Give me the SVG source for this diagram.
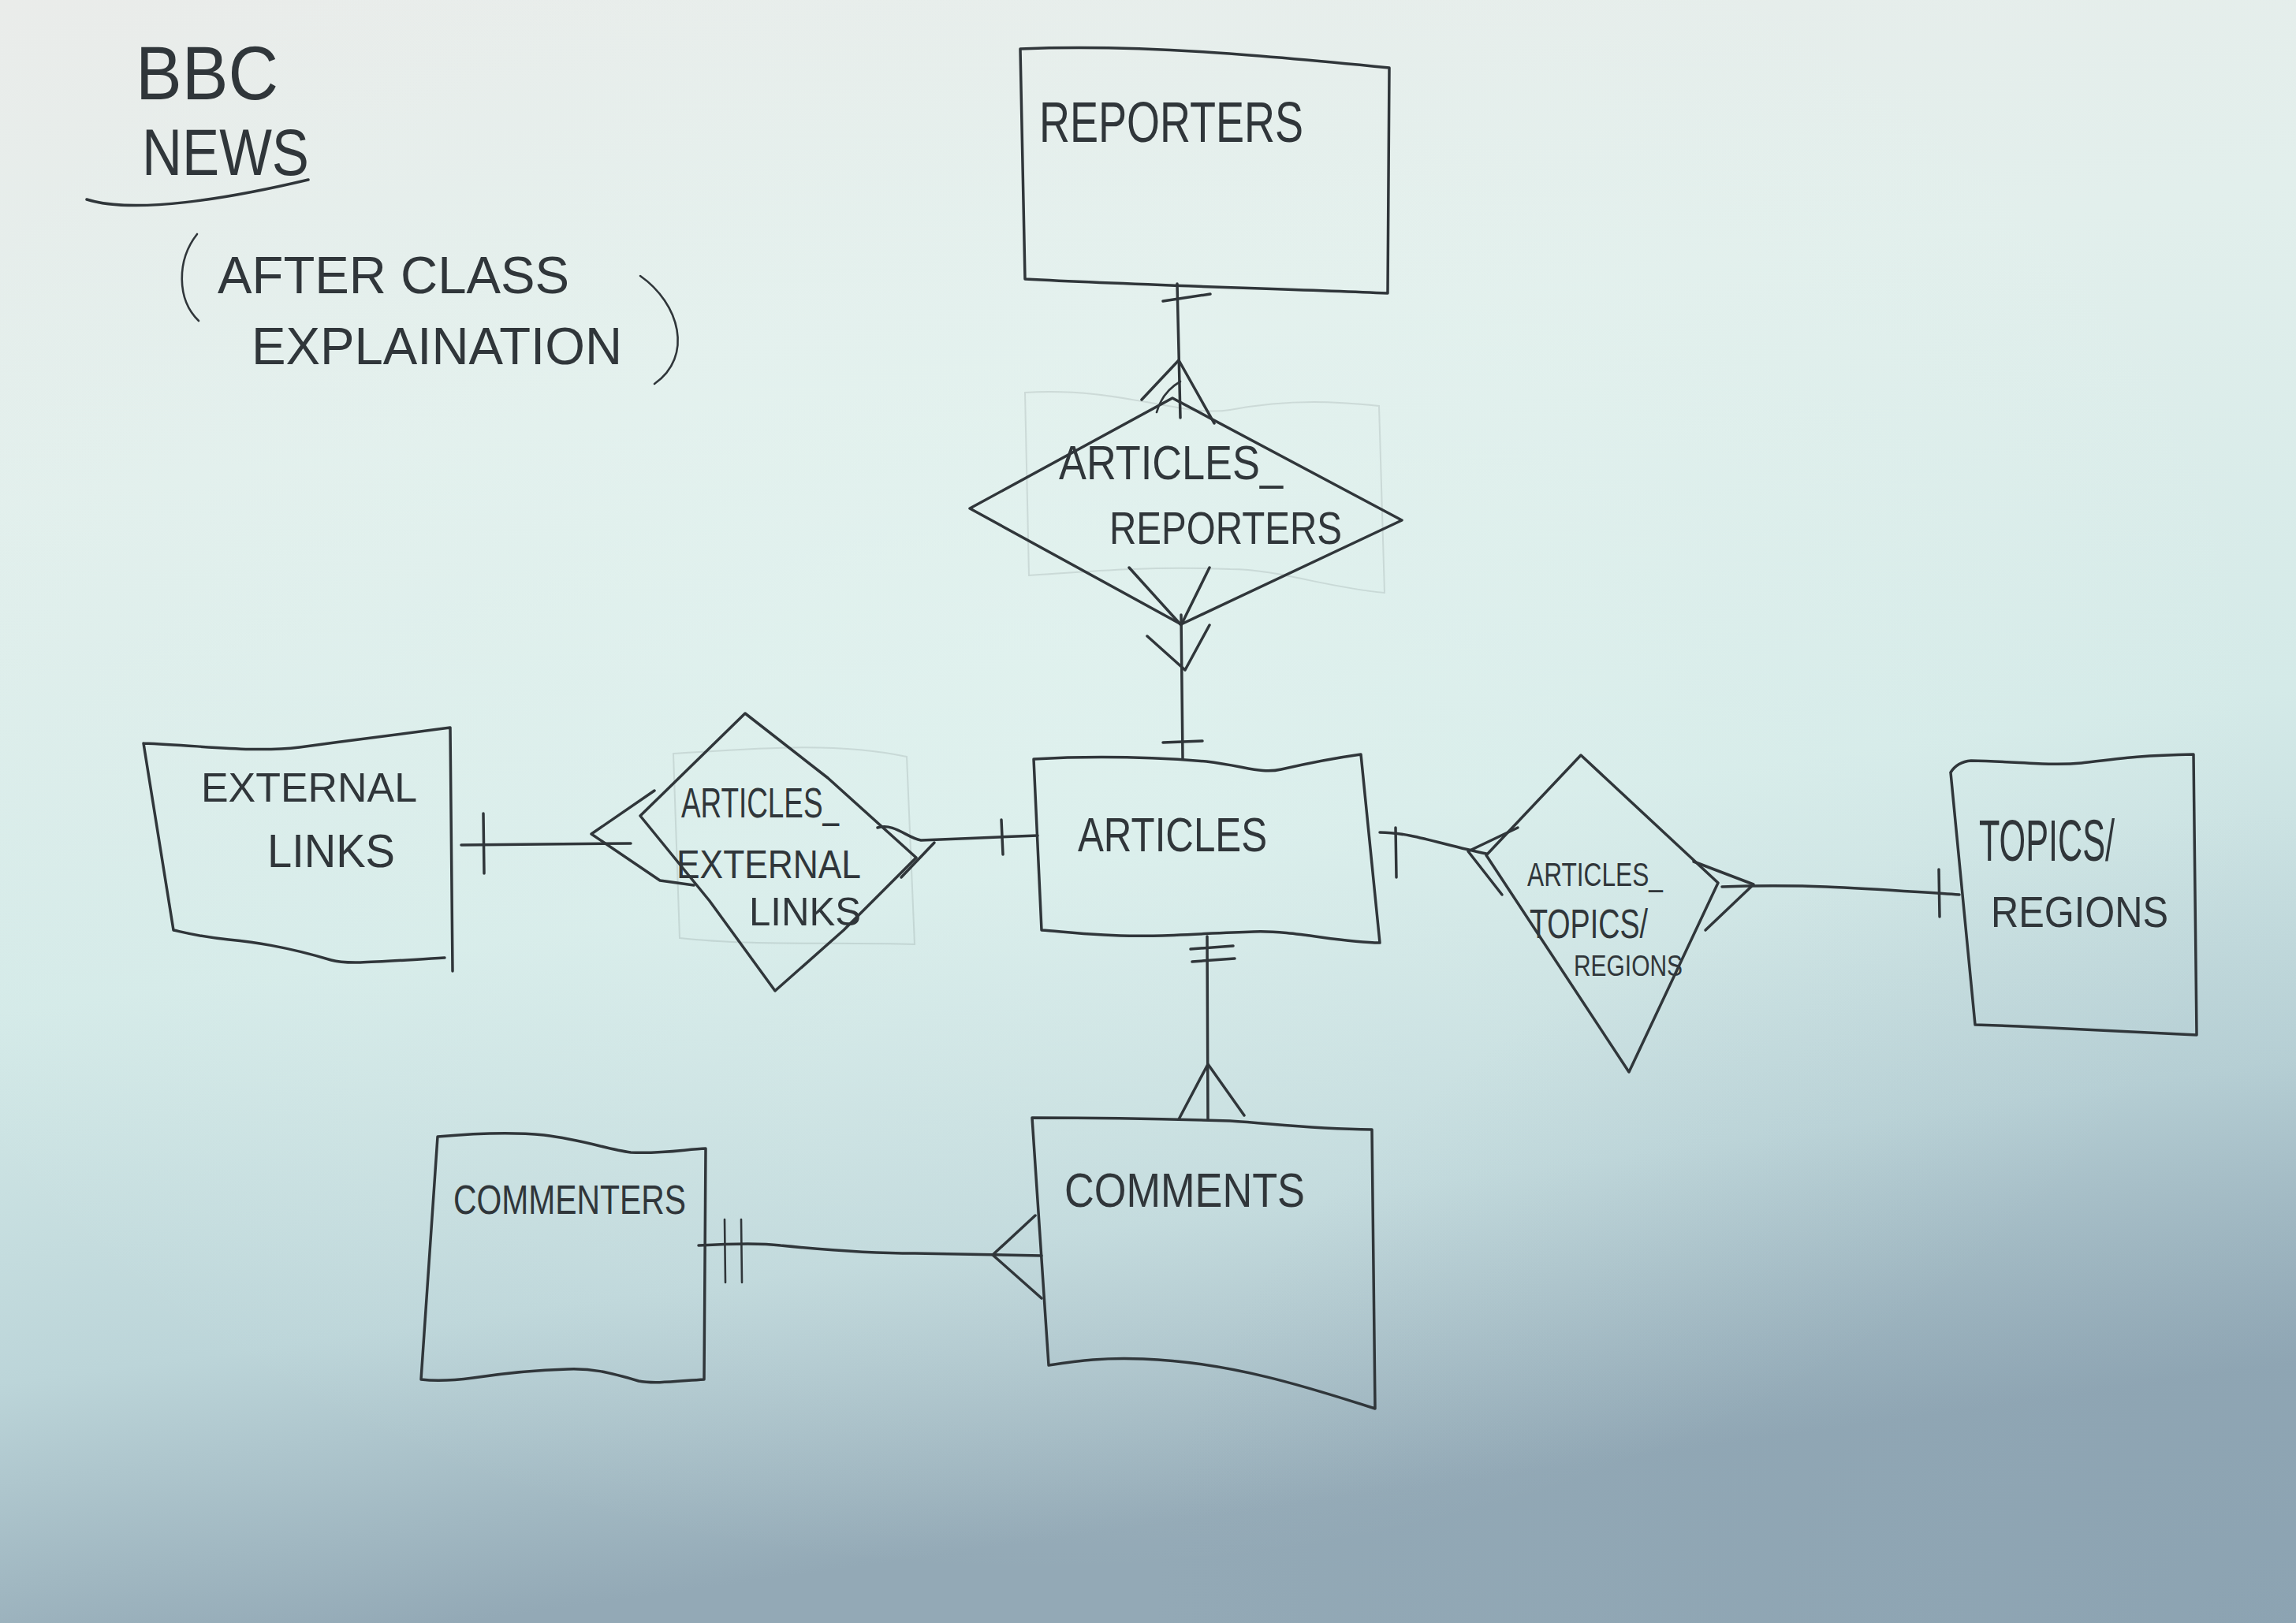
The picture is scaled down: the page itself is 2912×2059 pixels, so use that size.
<svg xmlns="http://www.w3.org/2000/svg" width="2912" height="2059" viewBox="0 0 2912 2059">
<defs>
<linearGradient id="paper" x1="0" y1="0" x2="0.2" y2="1">
<stop offset="0" stop-color="#eaecea"/>
<stop offset="0.3" stop-color="#e2efec"/>
<stop offset="0.6" stop-color="#d4eae8"/>
<stop offset="0.82" stop-color="#bcd5d9"/>
<stop offset="1" stop-color="#93a9b6"/>
</linearGradient>
<radialGradient id="glow" cx="0.45" cy="0.42" r="0.55">
<stop offset="0" stop-color="#e6f6f2" stop-opacity="0.5"/>
<stop offset="1" stop-color="#e6f6f2" stop-opacity="0"/>
</radialGradient>
<radialGradient id="vigR" cx="1" cy="1" r="0.5">
<stop offset="0" stop-color="#8099ab" stop-opacity="0.35"/>
<stop offset="1" stop-color="#8099ab" stop-opacity="0"/>
</radialGradient>
</defs>
<style>
.ink{fill:none;stroke:#30363a;stroke-width:3.5;stroke-linecap:round;stroke-linejoin:round}
.thin{fill:none;stroke:#30363a;stroke-width:2.6;stroke-linecap:round;stroke-linejoin:round}
.ghost{fill:none;stroke:#30363a;stroke-width:2;stroke-opacity:0.12}
.t{font-family:"Liberation Sans","DejaVu Sans",sans-serif;fill:#30363a;font-weight:normal}
</style>
<rect x="0" y="0" width="2912" height="2059" fill="url(#paper)"/>
<rect x="0" y="0" width="2912" height="2059" fill="url(#glow)"/>
<rect x="0" y="0" width="2912" height="2059" fill="url(#vigR)"/>

<g id="title">
<text class="t" x="172" y="126" font-size="96" textLength="181" lengthAdjust="spacingAndGlyphs">BBC</text>
<text class="t" x="180" y="222" font-size="84" textLength="212" lengthAdjust="spacingAndGlyphs">NEWS</text>
<path class="ink" d="M110,253 C170,272 290,252 391,228"/>
<path class="thin" d="M250,297 C224,330 224,380 252,407"/>
<text class="t" x="276" y="372" font-size="66" textLength="446" lengthAdjust="spacingAndGlyphs">AFTER CLASS</text>
<text class="t" x="319" y="462" font-size="66" textLength="470" lengthAdjust="spacingAndGlyphs">EXPLAINATION</text>
<path class="thin" d="M812,350 C862,385 880,452 830,487"/>
</g>

<g id="ghosts">
<path class="ghost" d="M1300,498 C1420,490 1500,530 1560,520 C1640,505 1700,510 1749,515 L1756,752 C1680,745 1620,722 1560,722 C1450,718 1380,725 1305,730 Z"/>
<path class="ghost" d="M854,956 C950,950 1060,940 1150,960 L1160,1198 C1060,1195 950,1200 862,1190 Z"/>
</g>

<g id="reporters">
<path class="ink" d="M1294,62 C1450,56 1600,70 1762,86 L1760,372 C1620,366 1450,362 1300,354 Z"/>
<text class="t" x="1318" y="180" font-size="72" textLength="335" lengthAdjust="spacingAndGlyphs">REPORTERS</text>
</g>

<g id="articles_reporters">
<path class="ink" d="M1230,645 L1487,505 L1778,660 L1498,792 Z"/>
<text class="t" x="1343" y="608" font-size="62" textLength="284" lengthAdjust="spacingAndGlyphs">ARTICLES_</text>
<text class="t" x="1407" y="690" font-size="58" textLength="295" lengthAdjust="spacingAndGlyphs">REPORTERS</text>
</g>

<g id="articles">
<path class="ink" d="M1311,963 C1400,958 1480,962 1530,966 C1580,972 1600,982 1625,976 C1660,968 1690,962 1726,957 L1750,1196 C1700,1196 1640,1180 1590,1182 C1520,1184 1460,1190 1400,1186 C1360,1184 1340,1181 1321,1180 Z"/>
<text class="t" x="1367" y="1080" font-size="62" textLength="240" lengthAdjust="spacingAndGlyphs">ARTICLES</text>
</g>

<g id="external_links">
<path class="ink" d="M182,943 C260,946 320,955 380,948 C440,940 470,936 571,923 L574,1232 M564,1215 C480,1220 440,1224 420,1218 C360,1200 320,1195 290,1192 C250,1188 230,1182 220,1180 L182,943"/>
<text class="t" x="255" y="1017" font-size="52" textLength="274" lengthAdjust="spacingAndGlyphs">EXTERNAL</text>
<text class="t" x="339" y="1100" font-size="60" textLength="162" lengthAdjust="spacingAndGlyphs">LINKS</text>
</g>

<g id="articles_external_links">
<path class="ink" d="M945,905 L812,1035 L900,1143 L983,1257 L1070,1180 L1162,1088 L1050,987 Z"/>
<text class="t" x="864" y="1037" font-size="54" textLength="200" lengthAdjust="spacingAndGlyphs">ARTICLES_</text>
<text class="t" x="858" y="1114" font-size="50" textLength="234" lengthAdjust="spacingAndGlyphs">EXTERNAL</text>
<text class="t" x="950" y="1174" font-size="50" textLength="142" lengthAdjust="spacingAndGlyphs">LINKS</text>
</g>

<g id="articles_topics_regions">
<path class="ink" d="M1885,1085 L2005,958 L2179,1120 L2066,1360 Z"/>
<text class="t" x="1937" y="1124" font-size="42" textLength="172" lengthAdjust="spacingAndGlyphs">ARTICLES_</text>
<text class="t" x="1940" y="1190" font-size="52" textLength="150" lengthAdjust="spacingAndGlyphs">TOPICS/</text>
<text class="t" x="1996" y="1238" font-size="36" textLength="138" lengthAdjust="spacingAndGlyphs">REGIONS</text>
</g>

<g id="topics_regions">
<path class="ink" d="M2474,980 C2480,970 2488,966 2500,965 C2560,966 2600,972 2640,968 C2690,962 2720,958 2782,957 L2786,1313 C2720,1310 2640,1306 2560,1302 L2505,1300 L2474,980"/>
<text class="t" x="2510" y="1092" font-size="74" textLength="172" lengthAdjust="spacingAndGlyphs">TOPICS/</text>
<text class="t" x="2525" y="1176" font-size="56" textLength="225" lengthAdjust="spacingAndGlyphs">REGIONS</text>
</g>

<g id="commenters">
<path class="ink" d="M555,1442 C600,1438 650,1436 690,1440 C740,1446 770,1458 800,1462 C840,1464 870,1458 895,1457 L893,1750 C860,1752 830,1756 810,1752 C770,1740 750,1736 720,1737 C680,1738 640,1742 600,1748 C570,1752 550,1752 534,1750 Z"/>
<text class="t" x="575" y="1540" font-size="52" textLength="295" lengthAdjust="spacingAndGlyphs">COMMENTERS</text>
</g>

<g id="comments">
<path class="ink" d="M1309,1418 C1400,1418 1500,1420 1560,1422 C1620,1426 1660,1432 1740,1433 L1744,1787 C1660,1760 1560,1728 1450,1724 C1400,1722 1370,1726 1330,1732 Z"/>
<text class="t" x="1350" y="1531" font-size="62" textLength="305" lengthAdjust="spacingAndGlyphs">COMMENTS</text>
</g>

<g id="connectors">
<path class="ink" d="M1493,360 L1497,530"/>
<path class="ink" d="M1475,382 L1535,373"/>
<path class="ink" d="M1448,507 L1495,457 L1540,537"/>
<path class="thin" d="M1467,523 C1472,505 1483,492 1497,484"/>
<path class="ink" d="M1432,720 L1498,793 L1534,720"/>
<path class="ink" d="M1455,807 L1503,850 L1534,793"/>
<path class="ink" d="M1498,780 L1500,962"/>
<path class="ink" d="M1475,942 L1525,940"/>
<path class="ink" d="M585,1072 L800,1070"/>
<path class="ink" d="M613,1032 L614,1108"/>
<path class="ink" d="M830,1003 L750,1058 L837,1117 L880,1123"/>
<path class="ink" d="M1113,1050 C1135,1044 1150,1063 1168,1066 C1220,1064 1260,1062 1316,1060"/>
<path class="ink" d="M1185,1069 L1143,1113"/>
<path class="ink" d="M1270,1040 L1272,1084"/>
<path class="ink" d="M1750,1056 C1790,1056 1830,1072 1885,1083"/>
<path class="ink" d="M1770,1050 L1771,1113"/>
<path class="ink" d="M1925,1050 L1862,1080 L1905,1135"/>
<path class="ink" d="M2184,1125 C2300,1120 2400,1130 2485,1135"/>
<path class="ink" d="M2148,1093 L2224,1122 L2163,1180"/>
<path class="ink" d="M2459,1103 L2460,1163"/>
<path class="ink" d="M1531,1188 L1532,1420"/>
<path class="ink" d="M1510,1204 L1564,1200"/>
<path class="ink" d="M1512,1220 L1566,1216"/>
<path class="ink" d="M1495,1420 L1532,1350 L1578,1415"/>
<path class="ink" d="M886,1580 C920,1578 960,1576 990,1580 C1050,1586 1100,1590 1160,1590 C1220,1591 1280,1592 1321,1593"/>
<path class="thin" d="M919,1547 L920,1627"/>
<path class="thin" d="M940,1547 L941,1627"/>
<path class="ink" d="M1313,1542 L1259,1592 L1321,1647"/>
</g>
</svg>
